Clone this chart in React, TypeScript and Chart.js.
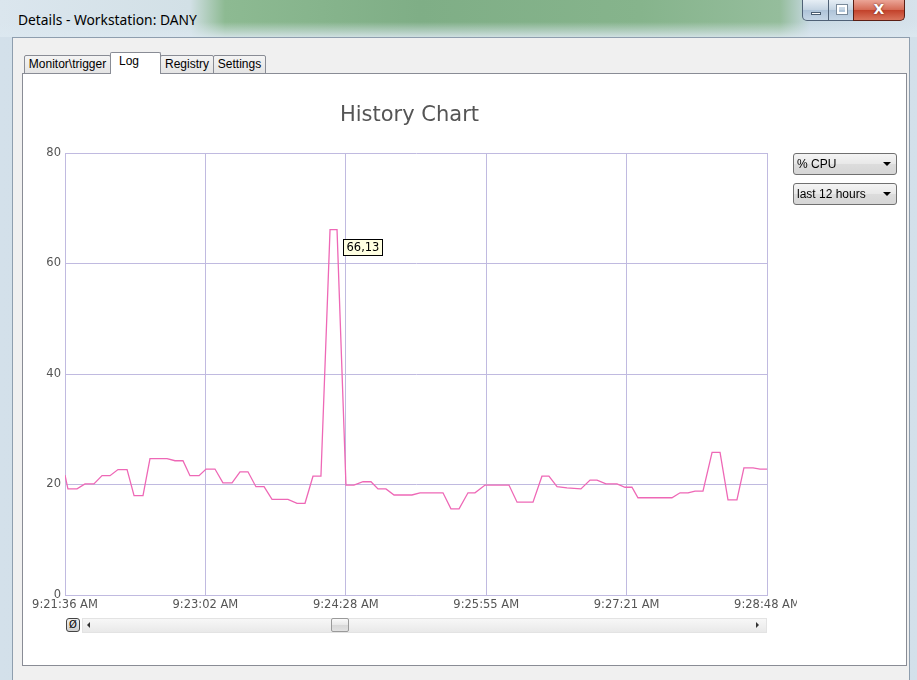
import React, { useEffect, useRef } from "react";
import { Chart, registerables } from "chart.js";

Chart.register(...registerables);

// seconds after 9:21:36 AM
const timeOffsets = [
  0, 1.8, 7.4, 12.3, 17.8, 22.8, 27.7, 32.6, 38.2, 42.5,
  48.0, 52.3, 57.8, 62.8, 67.7, 72.6, 76.9, 82.5, 86.8, 92.3,
  97.2, 102.8, 107.7, 112.6, 117.5, 122.5, 127.4, 132.3, 137.2, 142.8,
  147.7, 152.6, 157.5, 163.1, 167.4, 172.9, 177.8, 183.4, 188.3, 192.6,
  197.5, 202.5, 208.0, 213.5, 218.5, 223.4, 228.3, 232.6, 237.5, 242.5,
  248.0, 252.3, 258.5, 264.0, 268.9, 273.2, 278.2, 283.1, 288.0, 293.5,
  297.8, 302.8, 308.9, 317.5, 323.1, 327.4, 332.9, 339.7, 344.6, 348.9,
  352.6, 357.5, 363.1, 368.6, 373.5, 378.5, 383.4, 387.7, 392.6, 398.2,
  403.1, 408.0, 413.5, 417.8, 423.4, 427.7, 432,
];

const cpuValues = [
  21.7, 19.2, 19.2, 20.1, 20.1, 21.6, 21.6, 22.7, 22.7, 18.0,
  18.0, 24.7, 24.7, 24.7, 24.3, 24.3, 21.6, 21.6, 22.8, 22.8,
  20.3, 20.3, 22.3, 22.3, 19.6, 19.6, 17.3, 17.3, 17.3, 16.6,
  16.6, 21.5, 21.5, 66.13, 66.13, 19.9, 19.9, 20.5, 20.5, 19.2,
  19.2, 18.1, 18.1, 18.1, 18.5, 18.5, 18.5, 18.5, 15.6, 15.6,
  18.5, 18.5, 19.9, 19.9, 19.9, 19.9, 16.8, 16.8, 16.8, 21.5,
  21.5, 19.6, 19.4, 19.2, 20.8, 20.8, 20.1, 20.1, 19.5, 19.5,
  17.6, 17.6, 17.6, 17.6, 17.6, 18.5, 18.5, 18.8, 18.8, 25.8,
  25.8, 17.2, 17.2, 23.0, 23.0, 22.8, 22.8,
];

const xTickValues = [0, 86.4, 172.8, 259.2, 345.6, 432];
const xTickLabels = ["9:21:36 AM", "9:23:02 AM", "9:24:28 AM", "9:25:55 AM", "9:27:21 AM", "9:28:48 AM"];
const yTickValues = [0, 20, 40, 60, 80];

const GRID = "rgb(192,186,224)";
const LINE = "rgb(238,104,182)";
const TICKFONT = { family: "DejaVu Sans", size: 11.5 };

const peakLabel = {
  id: "peakLabel",
  afterDatasetsDraw(chart: any) {
    const meta = chart.getDatasetMeta(0);
    const vals = chart.data.datasets[0].data.map((d: any) => d.y);
    const max = Math.max(...vals);
    const idx = vals.lastIndexOf(max);
    const pt = meta.data[idx];
    if (!pt) return;
    const ctx = chart.ctx;
    const text = max.toFixed(2).replace(".", ",");
    ctx.save();
    ctx.font = "11.5px 'DejaVu Sans'";
    const w = Math.round(ctx.measureText(text).width) + 6;
    const x = Math.round(pt.x) + 6.5;
    const y = Math.round(pt.y) + 9.5;
    ctx.fillStyle = "#ffffe1";
    ctx.fillRect(x, y, w, 16);
    ctx.strokeStyle = "#000";
    ctx.lineWidth = 1;
    ctx.strokeRect(x, y, w, 16);
    ctx.fillStyle = "#000";
    ctx.textBaseline = "middle";
    ctx.fillText(text, x + 3, y + 8.5);
    ctx.restore();
  },
};

function ChartCanvas() {
  const ref = useRef<HTMLCanvasElement>(null);
  useEffect(() => {
    if (!ref.current) return;
    const chart = new Chart(ref.current, {
      type: "line",
      data: {
        datasets: [
          {
            data: timeOffsets.map((t, i) => ({ x: t, y: cpuValues[i] })),
            borderColor: LINE,
            borderWidth: 1.3,
            pointRadius: 0,
            tension: 0,
            fill: false,
            yAxisID: "y",
          },
        ],
      },
      plugins: [peakLabel],
      options: {
        animation: false,
        responsive: false,
        devicePixelRatio: 1,
        layout: { padding: { left: 0, right: 0, top: 0, bottom: 0 } },
        plugins: {
          legend: { display: false },
          tooltip: { enabled: false },
          title: {
            display: true,
            text: "History Chart",
            color: "#555",
            font: { family: "DejaVu Sans", size: 21, weight: "normal" },
            padding: { top: 29, bottom: 24.8 },
          },
        },
        scales: {
          x: {
            type: "linear",
            min: 0,
            max: 432,
            afterBuildTicks: (s: any) => {
              s.ticks = xTickValues.map((v) => ({ value: v }));
            },
            afterFit: (s: any) => {
              s.height = 20;
              s.paddingLeft = 0;
              s.paddingRight = 0;
            },
            grid: { color: GRID, drawTicks: false, lineWidth: 1 },
            border: { color: GRID },
            ticks: {
              autoSkip: false,
              maxRotation: 0,
              padding: 3,
              color: "#555",
              font: TICKFONT,
              callback: (v: any) => xTickLabels[xTickValues.indexOf(Number(v))],
            },
          },
          y: {
            min: 0,
            max: 80,
            afterBuildTicks: (s: any) => {
              s.ticks = yTickValues.map((v) => ({ value: v }));
            },
            afterFit: (s: any) => {
              s.width = 43;
              s.paddingTop = 0;
              s.paddingBottom = 0;
            },
            grid: { color: GRID, drawTicks: false, lineWidth: 1 },
            border: { color: GRID },
            ticks: { padding: 4, color: "#555", font: TICKFONT },
          },
          yRight: {
            position: "right",
            min: 0,
            max: 80,
            grid: { display: false, drawTicks: false },
            border: { display: false },
            ticks: { display: false },
            afterFit: (s: any) => {
              s.width = 30;
              s.paddingTop = 0;
              s.paddingBottom = 0;
            },
          },
        },
      },
    });
    return () => chart.destroy();
  }, []);
  return (
    <canvas
      ref={ref}
      width={775}
      height={541}
      style={{ position: "absolute", left: 22, top: 74, width: 775, height: 541 }}
    />
  );
}

const abs = (l: number, t: number, w: number, h: number, extra: any = {}) => ({
  position: "absolute" as const,
  left: l,
  top: t,
  width: w,
  height: h,
  boxSizing: "border-box" as const,
  ...extra,
});

function Tab({ l, t, w, h, label, sel }: any) {
  return (
    <div
      style={abs(l, t, w, h, {
        border: "1px solid #898c95",
        borderBottom: sel ? "none" : "1px solid #898c95",
        background: sel ? "#fff" : "linear-gradient(#f4f4f4, #e4e4e4)",
        fontSize: 12,
        color: "#000",
        textAlign: sel ? "left" : "center",
        paddingLeft: sel ? 8 : 0,
        lineHeight: "17px",
        zIndex: sel ? 3 : 1,
        borderTopLeftRadius: 2,
        borderTopRightRadius: 2,
      })}
    >
      {label}
    </div>
  );
}

function Combo({ t, label }: any) {
  return (
    <div
      style={abs(793, t, 104, 22, {
        border: "1px solid #707070",
        borderRadius: 3,
        background: "linear-gradient(#f4f4f4, #e8e8e8 50%, #dcdcdc 51%, #d6d6d6)",
        fontSize: 12,
        lineHeight: "20px",
        paddingLeft: 3,
        color: "#000",
        zIndex: 4,
      })}
    >
      {label}
      <div
        style={{
          position: "absolute",
          right: 5,
          top: 8,
          width: 0,
          height: 0,
          borderLeft: "4px solid transparent",
          borderRight: "4px solid transparent",
          borderTop: "4px solid #000",
        }}
      />
    </div>
  );
}

export default function App() {
  return (
    <div
      style={{
        position: "fixed",
        left: 0,
        top: 0,
        width: 917,
        height: 680,
        overflow: "hidden",
        fontFamily: "'Liberation Sans', Arial, sans-serif",
        background: "linear-gradient(to right, #d3e0ea, #cbdbe6 40%, #c9d9e4 60%, #d3e0ea)",
      }}
    >
      {/* title bar */}
      <div
        style={abs(0, 0, 917, 37, {
          background:
            "linear-gradient(to right, #dbe6ee 0px, #d2e0e6 190px, #8dba92 225px, #7fae86 420px, #86b48c 640px, #95bd9c 780px, #c8d9e3 810px, #d6e2eb 917px)",
        })}
      />
      <div
        style={abs(0, 22, 917, 15, {
          background: "linear-gradient(rgba(255,255,255,0), rgba(220,232,240,0.85))",
        })}
      />
      <div style={abs(18, 11, 300, 18, { fontFamily: "'Noto Sans'", fontSize: 13.8, color: "#000", lineHeight: "18px" })}>
        Details - Workstation: DANY
      </div>
      {/* window buttons */}
      <div
        style={abs(802, 0, 27, 21, {
          border: "1px solid #4f6176",
          borderTop: "none",
          borderBottomLeftRadius: 5,
          background: "linear-gradient(#e6eef5, #c3d3e2 50%, #aec3d8 51%, #c5d6e6)",
        })}
      >
        <div style={abs(8, 12, 10, 3, { background: "#fff", border: "1px solid #4a5d70" })} />
      </div>
      <div
        style={abs(828, 0, 26, 21, {
          border: "1px solid #4f6176",
          borderTop: "none",
          background: "linear-gradient(#e6eef5, #c3d3e2 50%, #aec3d8 51%, #c5d6e6)",
        })}
      >
        <div style={abs(8, 5, 10, 9, { border: "2px solid #fff", outline: "1px solid #7a8a9a" })} />
      </div>
      <div
        style={abs(853, 0, 52, 21, {
          border: "1px solid #5a1e14",
          borderTop: "none",
          borderBottomRightRadius: 5,
          background: "linear-gradient(#eba597, #d46a55 50%, #c2412a 51%, #d9745c)",
          color: "#fff",
          fontWeight: "bold",
          fontSize: 14,
          textAlign: "center",
          lineHeight: "19px",
          fontFamily: "'DejaVu Sans'",
          textShadow: "0 0 2px #5a1e14",
        })}
      >
        X
      </div>

      {/* client area */}
      <div
        style={abs(12, 37, 898, 650, {
          background: "#f0f0f0",
          border: "1px solid #8e9eae",
        })}
      />
      {/* tabs */}
      <Tab l={24} t={55} w={87} h={19} label="Monitor\trigger" />
      <Tab l={110} t={52} w={51} h={22} label="Log" sel />
      <Tab l={160} t={55} w={54} h={19} label="Registry" />
      <Tab l={213} t={55} w={53} h={19} label="Settings" />
      {/* panel */}
      <div
        style={abs(22, 73, 885, 593, {
          background: "#fff",
          border: "1px solid #898c95",
          zIndex: 2,
        })}
      />
      <div style={{ position: "absolute", left: 0, top: 0, width: 917, height: 680, zIndex: 3 }}>
        <ChartCanvas />
      </div>

      <Combo t={153} label="% CPU" />
      <Combo t={183} label="last 12 hours" />

      {/* scrollbar */}
      <div
        style={abs(82, 618, 685, 15, {
          background: "linear-gradient(#f7f7f7, #e9e9e9)",
          border: "1px solid #e3e3e3",
          zIndex: 4,
        })}
      />
      <div
        style={abs(66, 618, 14, 14, {
          border: "1px solid #444",
          borderRadius: 3,
          background: "linear-gradient(#f0f0f0, #cfcfcf)",
          fontSize: 10,
          lineHeight: "12px",
          textAlign: "center",
          color: "#000",
          fontFamily: "'DejaVu Sans'",
          zIndex: 5,
        })}
      >
        Ø
      </div>
      <div
        style={abs(87, 622, 0, 0, {
          borderTop: "3px solid transparent",
          borderBottom: "3px solid transparent",
          borderRight: "3px solid #333",
          zIndex: 5,
        })}
      />
      <div
        style={abs(756, 622, 0, 0, {
          borderTop: "3px solid transparent",
          borderBottom: "3px solid transparent",
          borderLeft: "3px solid #333",
          zIndex: 5,
        })}
      />
      <div
        style={abs(331, 618, 18, 14, {
          border: "1px solid #9a9a9a",
          borderRadius: 2,
          background: "linear-gradient(#fafafa, #e8e8e8 50%, #d8d8d8 51%, #e2e2e2)",
          zIndex: 5,
        })}
      />
    </div>
  );
}
